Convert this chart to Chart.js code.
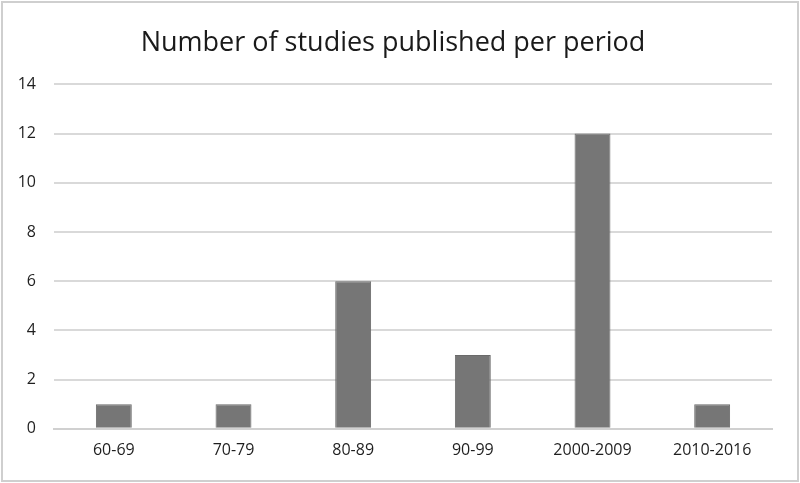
<!DOCTYPE html>
<html>
<head>
<meta charset="utf-8">
<script src="https://cdn.jsdelivr.net/npm/chart.js@4/dist/chart.umd.min.js"></script>
<style>
  html, body { margin: 0; padding: 0; background: #fff; }
  #wrap { width: 800px; height: 483px; position: relative; }
</style>
</head>
<body>
<div id="wrap"><canvas id="chart" width="800" height="483"></canvas></div>
<script>
var periods = ["60-69", "70-79", "80-89", "90-99", "2000-2009", "2010-2016"];
var studies = [1, 1, 6, 3, 12, 1];
var yMax = 14;
var yStep = 2;

// thin grey frame round the whole picture
var frame = {
  id: "frame",
  afterDraw: function (chart) {
    var ctx = chart.ctx;
    ctx.save();
    ctx.strokeStyle = "#cfcfcf";
    ctx.lineWidth = 2;
    ctx.strokeRect(2, 2, chart.width - 4, chart.height - 4);
    ctx.restore();
  }
};

new Chart(document.getElementById("chart"), {
  type: "bar",
  data: {
    labels: periods,
    datasets: [
      {
        label: "Studies",
        data: studies,
        backgroundColor: "#767676",
        borderColor: "#6a6a6a",
        borderWidth: 1,
        barPercentage: 0.6,
        categoryPercentage: 0.5
      }
    ]
  },
  options: {
    responsive: false,
    animation: false,
    layout: { padding: { top: 27, right: 28, bottom: 11, left: 14 } },
    plugins: {
      legend: { display: false },
      tooltip: { enabled: false },
      title: {
        display: true,
        text: "Number of studies published per period",
        color: "#1a1a1a",
        font: { family: "'Open Sans', sans-serif", size: 27, weight: "normal" },
        padding: { top: 0, bottom: 25 }
      }
    },
    scales: {
      x: {
        grid: { display: false, drawTicks: false },
        border: { color: "#d0d0d0", width: 2 },
        ticks: {
          color: "#1f1f1f",
          padding: 12,
          font: { family: "'Open Sans', sans-serif", size: 16 }
        }
      },
      y: {
        min: 0,
        max: yMax,
        afterFit: function (s) { s.width = 40; },
        grid: { color: "#d9d9d9", lineWidth: 2, drawTicks: false },
        border: { display: false },
        ticks: {
          stepSize: yStep,
          color: "#1f1f1f",
          padding: 18,
          font: { family: "'Open Sans', sans-serif", size: 16 }
        }
      }
    }
  },
  plugins: [frame]
});
</script>
</body>
</html>
